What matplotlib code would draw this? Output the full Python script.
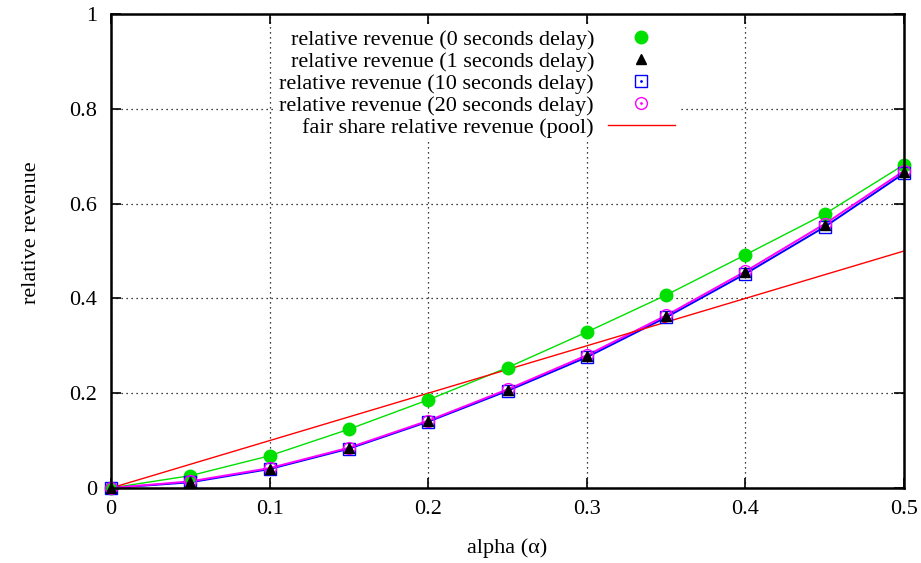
import matplotlib
matplotlib.use("Agg")
import matplotlib.pyplot as plt
from matplotlib.ticker import FixedLocator, FuncFormatter

plt.rcParams['font.family'] = ['Liberation Serif', 'DejaVu Serif']

alpha = [0.0, 0.05, 0.10, 0.15, 0.20, 0.25, 0.30, 0.35, 0.40, 0.45, 0.50]
rev_0s = [0.0, 0.026, 0.068, 0.124, 0.186, 0.254, 0.329, 0.407, 0.492, 0.578, 0.682]
rev_1s = [0.0, 0.013, 0.041, 0.084, 0.141, 0.207, 0.278, 0.362, 0.455, 0.554, 0.666]
rev_10s = [0.0, 0.012, 0.040, 0.083, 0.140, 0.205, 0.276, 0.360, 0.452, 0.551, 0.664]
rev_20s = [0.0, 0.014, 0.042, 0.085, 0.142, 0.208, 0.280, 0.364, 0.457, 0.557, 0.669]
fair_x = [0.0, 0.5]
fair_y = [0.0, 0.5]

labels = ["relative revenue (0 seconds delay)",
          "relative revenue (1 seconds delay)",
          "relative revenue (10 seconds delay)",
          "relative revenue (20 seconds delay)",
          "fair share relative revenue (pool)"]

GREEN = '#00e000'
BLUE = '#0000ff'
MAG = '#ff00ff'
RED = '#ff0000'
FS = 16

fig = plt.figure(figsize=(9.21, 5.63), dpi=100)
ax = fig.add_axes([111/921, 75/563, 793/921, 474/563])

ax.set_xlim(0, 0.5)
ax.set_ylim(0, 1)

# grid
ax.grid(True, color='black', linestyle=(0, (1, 3)), linewidth=0.9, zorder=0)
ax.set_axisbelow(True)

# connecting lines
ax.plot(alpha, rev_0s, color=GREEN, lw=1.0, zorder=3, clip_on=False)
ax.plot(alpha, rev_10s, color=BLUE, lw=1.4, zorder=3, clip_on=False)
ax.plot(alpha, rev_20s, color=MAG, lw=1.4, zorder=3, clip_on=False)
red_line, = ax.plot(fair_x, fair_y, color=RED, lw=1.0, zorder=3, clip_on=False)

# markers
h0, = ax.plot(alpha, rev_0s, 'o', ms=9, color=GREEN, mec=GREEN, ls='none', zorder=5, clip_on=False)
h10, = ax.plot(alpha, rev_10s, 's', ms=9, mfc='none', mec=BLUE, mew=1.0, ls='none', zorder=5, clip_on=False)
d10, = ax.plot(alpha, rev_10s, '.', ms=2, color=BLUE, ls='none', zorder=5, clip_on=False)
h20, = ax.plot(alpha, rev_20s, 'o', ms=8.5, mfc='none', mec=MAG, mew=1.0, ls='none', zorder=6, clip_on=False)
d20, = ax.plot(alpha, rev_20s, '.', ms=2, color=MAG, ls='none', zorder=6, clip_on=False)
h1, = ax.plot(alpha, rev_1s, '^', ms=7, color='black', ls='none', zorder=7, clip_on=False)

# ticks
ax.xaxis.set_major_locator(FixedLocator([0, 0.1, 0.2, 0.3, 0.4, 0.5]))
ax.yaxis.set_major_locator(FixedLocator([0, 0.2, 0.4, 0.6, 0.8, 1.0]))
fmt = FuncFormatter(lambda v, p: f'{v:g}')
ax.xaxis.set_major_formatter(fmt)
ax.yaxis.set_major_formatter(fmt)
ax.tick_params(direction='in', length=7, width=1.2, top=True, right=True,
               labelsize=FS, color='black')
ax.tick_params(axis='x', pad=9)
ax.tick_params(axis='y', pad=10)
for s in ax.spines.values():
    s.set_linewidth(1.8)
    s.set_zorder(8)

ax.set_xlabel('alpha (α)', fontsize=FS)
ax.xaxis.set_label_coords(0.5, -(548 - 488) / 474)
ax.xaxis.label.set_va('center')
ax.set_ylabel('relative revenue', fontsize=FS)
ax.yaxis.set_label_coords((32 - 111) / 793, (488 - 233) / 474)
ax.yaxis.label.set_va('center')

leg = ax.legend([h0, h1, (h10, d10), (h20, d20), red_line], labels,
                loc='upper right', bbox_to_anchor=((679-111)/793, (488-24.5)/474),
                markerfirst=False, numpoints=1, fontsize=FS, frameon=True,
                facecolor='white', edgecolor='none', framealpha=1.0, fancybox=False,
                handlelength=3.0, handletextpad=0.62, labelspacing=0.07,
                borderpad=0.2, borderaxespad=0)
leg.set_zorder(4)

fig.savefig('out.png', dpi=100)
